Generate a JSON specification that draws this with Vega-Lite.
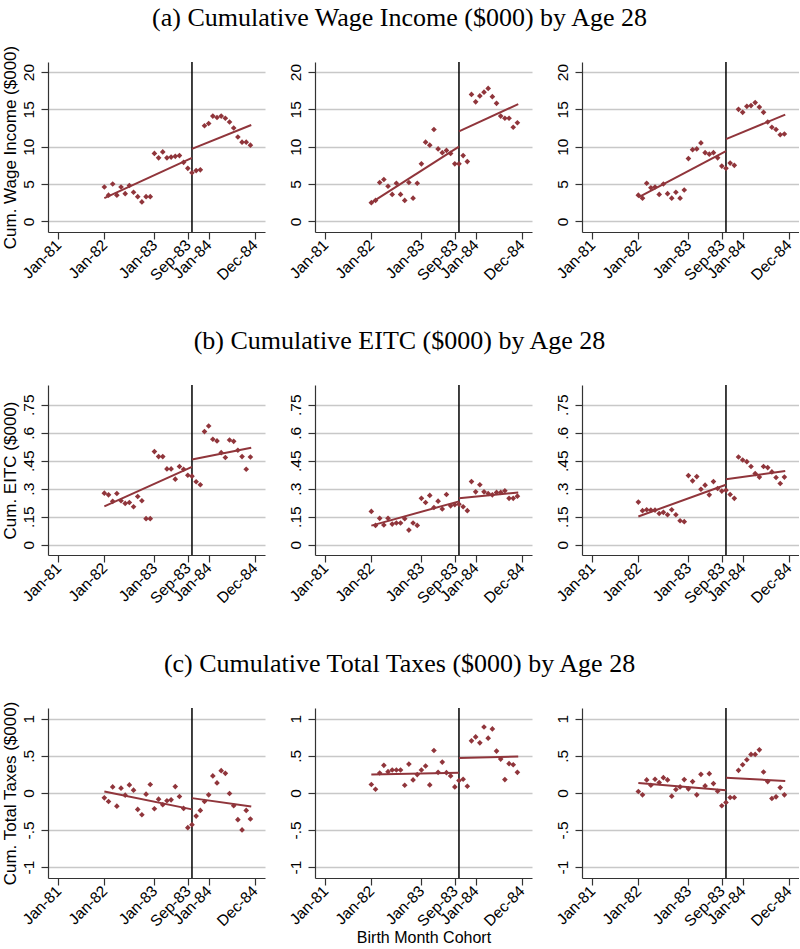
{
"$schema": "https://vega.github.io/schema/vega-lite/v6.json",
"padding": {"left": 0, "top": 5, "right": 0, "bottom": 0},
"columns": 3,
"bounds": "flush",
"spacing": {"row": 153, "column": 50},
"datasets": {
"pts": [
{"p":1,"m":12,"v":4.6},{"p":1,"m":13,"v":3.5},{"p":1,"m":14,"v":5.0},{"p":1,"m":15,"v":3.5},{"p":1,"m":16,"v":4.6},{"p":1,"m":17,"v":3.7},{"p":1,"m":18,"v":4.8},{"p":1,"m":19,"v":3.9},{"p":1,"m":20,"v":3.3},{"p":1,"m":21,"v":2.6},{"p":1,"m":22,"v":3.3},{"p":1,"m":23,"v":3.3},{"p":1,"m":24,"v":9.1},{"p":1,"m":25,"v":8.5},{"p":1,"m":26,"v":9.3},{"p":1,"m":27,"v":8.5},{"p":1,"m":28,"v":8.6},{"p":1,"m":29,"v":8.7},{"p":1,"m":30,"v":8.8},{"p":1,"m":31,"v":7.9},{"p":1,"m":32,"v":7.1},{"p":1,"m":33,"v":6.5},{"p":1,"m":34,"v":6.8},{"p":1,"m":35,"v":6.9},{"p":1,"m":36,"v":12.8},{"p":1,"m":37,"v":13.1},{"p":1,"m":38,"v":14.1},{"p":1,"m":39,"v":13.9},{"p":1,"m":40,"v":14.1},{"p":1,"m":41,"v":13.8},{"p":1,"m":42,"v":13.3},{"p":1,"m":43,"v":12.5},{"p":1,"m":44,"v":11.3},{"p":1,"m":45,"v":10.6},{"p":1,"m":46,"v":10.6},{"p":1,"m":47,"v":10.2},
{"p":2,"m":12,"v":2.5},{"p":2,"m":13,"v":2.8},{"p":2,"m":14,"v":5.2},{"p":2,"m":15,"v":5.6},{"p":2,"m":16,"v":4.7},{"p":2,"m":17,"v":3.6},{"p":2,"m":18,"v":5.1},{"p":2,"m":19,"v":3.6},{"p":2,"m":20,"v":2.8},{"p":2,"m":21,"v":5.2},{"p":2,"m":22,"v":3.1},{"p":2,"m":23,"v":5.1},{"p":2,"m":24,"v":7.7},{"p":2,"m":25,"v":10.6},{"p":2,"m":26,"v":10.2},{"p":2,"m":27,"v":12.3},{"p":2,"m":28,"v":9.7},{"p":2,"m":29,"v":9.2},{"p":2,"m":30,"v":9.5},{"p":2,"m":31,"v":9.1},{"p":2,"m":32,"v":7.7},{"p":2,"m":33,"v":7.7},{"p":2,"m":34,"v":8.8},{"p":2,"m":35,"v":8.0},{"p":2,"m":36,"v":17.0},{"p":2,"m":37,"v":16.0},{"p":2,"m":38,"v":16.8},{"p":2,"m":39,"v":17.3},{"p":2,"m":40,"v":17.8},{"p":2,"m":41,"v":16.7},{"p":2,"m":42,"v":15.8},{"p":2,"m":43,"v":14.1},{"p":2,"m":44,"v":13.8},{"p":2,"m":45,"v":13.8},{"p":2,"m":46,"v":12.6},{"p":2,"m":47,"v":13.2},
{"p":3,"m":12,"v":3.5},{"p":3,"m":13,"v":3.1},{"p":3,"m":14,"v":5.1},{"p":3,"m":15,"v":4.5},{"p":3,"m":16,"v":4.6},{"p":3,"m":17,"v":3.6},{"p":3,"m":18,"v":5.0},{"p":3,"m":19,"v":3.7},{"p":3,"m":20,"v":3.1},{"p":3,"m":21,"v":3.9},{"p":3,"m":22,"v":3.1},{"p":3,"m":23,"v":4.2},{"p":3,"m":24,"v":8.4},{"p":3,"m":25,"v":9.6},{"p":3,"m":26,"v":9.7},{"p":3,"m":27,"v":10.5},{"p":3,"m":28,"v":9.2},{"p":3,"m":29,"v":9.0},{"p":3,"m":30,"v":9.2},{"p":3,"m":31,"v":8.5},{"p":3,"m":32,"v":7.4},{"p":3,"m":33,"v":7.1},{"p":3,"m":34,"v":7.8},{"p":3,"m":35,"v":7.5},{"p":3,"m":36,"v":15.0},{"p":3,"m":37,"v":14.6},{"p":3,"m":38,"v":15.4},{"p":3,"m":39,"v":15.5},{"p":3,"m":40,"v":15.9},{"p":3,"m":41,"v":15.3},{"p":3,"m":42,"v":14.6},{"p":3,"m":43,"v":13.3},{"p":3,"m":44,"v":12.6},{"p":3,"m":45,"v":12.3},{"p":3,"m":46,"v":11.6},{"p":3,"m":47,"v":11.7},
{"p":4,"m":12,"v":0.276},{"p":4,"m":13,"v":0.267},{"p":4,"m":14,"v":0.232},{"p":4,"m":15,"v":0.274},{"p":4,"m":16,"v":0.235},{"p":4,"m":17,"v":0.221},{"p":4,"m":18,"v":0.226},{"p":4,"m":19,"v":0.203},{"p":4,"m":20,"v":0.258},{"p":4,"m":21,"v":0.235},{"p":4,"m":22,"v":0.139},{"p":4,"m":23,"v":0.139},{"p":4,"m":24,"v":0.499},{"p":4,"m":25,"v":0.472},{"p":4,"m":26,"v":0.472},{"p":4,"m":27,"v":0.406},{"p":4,"m":28,"v":0.406},{"p":4,"m":29,"v":0.351},{"p":4,"m":30,"v":0.419},{"p":4,"m":31,"v":0.404},{"p":4,"m":32,"v":0.372},{"p":4,"m":33,"v":0.367},{"p":4,"m":34,"v":0.337},{"p":4,"m":35,"v":0.321},{"p":4,"m":36,"v":0.606},{"p":4,"m":37,"v":0.636},{"p":4,"m":38,"v":0.565},{"p":4,"m":39,"v":0.556},{"p":4,"m":40,"v":0.493},{"p":4,"m":41,"v":0.467},{"p":4,"m":42,"v":0.561},{"p":4,"m":43,"v":0.554},{"p":4,"m":44,"v":0.506},{"p":4,"m":45,"v":0.472},{"p":4,"m":46,"v":0.404},{"p":4,"m":47,"v":0.470},
{"p":5,"m":12,"v":0.178},{"p":5,"m":13,"v":0.103},{"p":5,"m":14,"v":0.141},{"p":5,"m":15,"v":0.105},{"p":5,"m":16,"v":0.141},{"p":5,"m":17,"v":0.110},{"p":5,"m":18,"v":0.116},{"p":5,"m":19,"v":0.116},{"p":5,"m":20,"v":0.139},{"p":5,"m":21,"v":0.078},{"p":5,"m":22,"v":0.116},{"p":5,"m":23,"v":0.103},{"p":5,"m":24,"v":0.248},{"p":5,"m":25,"v":0.226},{"p":5,"m":26,"v":0.264},{"p":5,"m":27,"v":0.199},{"p":5,"m":28,"v":0.233},{"p":5,"m":29,"v":0.191},{"p":5,"m":30,"v":0.269},{"p":5,"m":31,"v":0.208},{"p":5,"m":32,"v":0.214},{"p":5,"m":33,"v":0.217},{"p":5,"m":34,"v":0.203},{"p":5,"m":35,"v":0.182},{"p":5,"m":36,"v":0.338},{"p":5,"m":37,"v":0.283},{"p":5,"m":38,"v":0.321},{"p":5,"m":39,"v":0.283},{"p":5,"m":40,"v":0.274},{"p":5,"m":41,"v":0.267},{"p":5,"m":42,"v":0.280},{"p":5,"m":43,"v":0.280},{"p":5,"m":44,"v":0.289},{"p":5,"m":45,"v":0.248},{"p":5,"m":46,"v":0.248},{"p":5,"m":47,"v":0.260},
{"p":6,"m":12,"v":0.228},{"p":6,"m":13,"v":0.182},{"p":6,"m":14,"v":0.187},{"p":6,"m":15,"v":0.185},{"p":6,"m":16,"v":0.185},{"p":6,"m":17,"v":0.167},{"p":6,"m":18,"v":0.173},{"p":6,"m":19,"v":0.160},{"p":6,"m":20,"v":0.187},{"p":6,"m":21,"v":0.160},{"p":6,"m":22,"v":0.128},{"p":6,"m":23,"v":0.123},{"p":6,"m":24,"v":0.370},{"p":6,"m":25,"v":0.342},{"p":6,"m":26,"v":0.365},{"p":6,"m":27,"v":0.297},{"p":6,"m":28,"v":0.319},{"p":6,"m":29,"v":0.267},{"p":6,"m":30,"v":0.338},{"p":6,"m":31,"v":0.301},{"p":6,"m":32,"v":0.287},{"p":6,"m":33,"v":0.292},{"p":6,"m":34,"v":0.269},{"p":6,"m":35,"v":0.248},{"p":6,"m":36,"v":0.470},{"p":6,"m":37,"v":0.454},{"p":6,"m":38,"v":0.445},{"p":6,"m":39,"v":0.419},{"p":6,"m":40,"v":0.381},{"p":6,"m":41,"v":0.362},{"p":6,"m":42,"v":0.419},{"p":6,"m":43,"v":0.413},{"p":6,"m":44,"v":0.390},{"p":6,"m":45,"v":0.360},{"p":6,"m":46,"v":0.328},{"p":6,"m":47,"v":0.362},
{"p":7,"m":12,"v":-0.067},{"p":7,"m":13,"v":-0.116},{"p":7,"m":14,"v":0.080},{"p":7,"m":15,"v":-0.179},{"p":7,"m":16,"v":0.063},{"p":7,"m":17,"v":-0.031},{"p":7,"m":18,"v":0.107},{"p":7,"m":19,"v":0.036},{"p":7,"m":20,"v":-0.223},{"p":7,"m":21,"v":-0.295},{"p":7,"m":22,"v":-0.018},{"p":7,"m":23,"v":0.112},{"p":7,"m":24,"v":-0.214},{"p":7,"m":25,"v":-0.085},{"p":7,"m":26,"v":-0.161},{"p":7,"m":27,"v":-0.107},{"p":7,"m":28,"v":-0.094},{"p":7,"m":29,"v":0.085},{"p":7,"m":30,"v":-0.049},{"p":7,"m":31,"v":-0.210},{"p":7,"m":32,"v":-0.469},{"p":7,"m":33,"v":-0.429},{"p":7,"m":34,"v":-0.313},{"p":7,"m":35,"v":-0.237},{"p":7,"m":36,"v":-0.116},{"p":7,"m":37,"v":-0.027},{"p":7,"m":38,"v":0.228},{"p":7,"m":39,"v":0.134},{"p":7,"m":40,"v":0.299},{"p":7,"m":41,"v":0.263},{"p":7,"m":42,"v":-0.009},{"p":7,"m":43,"v":-0.174},{"p":7,"m":44,"v":-0.362},{"p":7,"m":45,"v":-0.500},{"p":7,"m":46,"v":-0.237},{"p":7,"m":47,"v":-0.353},
{"p":8,"m":12,"v":0.112},{"p":8,"m":13,"v":0.049},{"p":8,"m":14,"v":0.268},{"p":8,"m":15,"v":0.371},{"p":8,"m":16,"v":0.286},{"p":8,"m":17,"v":0.308},{"p":8,"m":18,"v":0.308},{"p":8,"m":19,"v":0.308},{"p":8,"m":20,"v":0.103},{"p":8,"m":21,"v":0.388},{"p":8,"m":22,"v":0.174},{"p":8,"m":23,"v":0.246},{"p":8,"m":24,"v":0.308},{"p":8,"m":25,"v":0.362},{"p":8,"m":26,"v":0.107},{"p":8,"m":27,"v":0.571},{"p":8,"m":28,"v":0.277},{"p":8,"m":29,"v":0.415},{"p":8,"m":30,"v":0.272},{"p":8,"m":31,"v":0.228},{"p":8,"m":32,"v":0.080},{"p":8,"m":33,"v":0.165},{"p":8,"m":34,"v":0.183},{"p":8,"m":35,"v":0.089},{"p":8,"m":36,"v":0.701},{"p":8,"m":37,"v":0.754},{"p":8,"m":38,"v":0.674},{"p":8,"m":39,"v":0.888},{"p":8,"m":40,"v":0.737},{"p":8,"m":41,"v":0.862},{"p":8,"m":42,"v":0.563},{"p":8,"m":43,"v":0.455},{"p":8,"m":44,"v":0.179},{"p":8,"m":45,"v":0.393},{"p":8,"m":46,"v":0.379},{"p":8,"m":47,"v":0.277},
{"p":9,"m":12,"v":0.018},{"p":9,"m":13,"v":-0.027},{"p":9,"m":14,"v":0.174},{"p":9,"m":15,"v":0.103},{"p":9,"m":16,"v":0.183},{"p":9,"m":17,"v":0.138},{"p":9,"m":18,"v":0.205},{"p":9,"m":19,"v":0.174},{"p":9,"m":20,"v":-0.045},{"p":9,"m":21,"v":0.045},{"p":9,"m":22,"v":0.080},{"p":9,"m":23,"v":0.179},{"p":9,"m":24,"v":0.054},{"p":9,"m":25,"v":0.152},{"p":9,"m":26,"v":-0.027},{"p":9,"m":27,"v":0.250},{"p":9,"m":28,"v":0.094},{"p":9,"m":29,"v":0.259},{"p":9,"m":30,"v":0.125},{"p":9,"m":31,"v":0.022},{"p":9,"m":32,"v":-0.174},{"p":9,"m":33,"v":-0.129},{"p":9,"m":34,"v":-0.063},{"p":9,"m":35,"v":-0.063},{"p":9,"m":36,"v":0.304},{"p":9,"m":37,"v":0.379},{"p":9,"m":38,"v":0.446},{"p":9,"m":39,"v":0.518},{"p":9,"m":40,"v":0.518},{"p":9,"m":41,"v":0.580},{"p":9,"m":42,"v":0.281},{"p":9,"m":43,"v":0.152},{"p":9,"m":44,"v":-0.076},{"p":9,"m":45,"v":-0.054},{"p":9,"m":46,"v":0.071},{"p":9,"m":47,"v":-0.027}
],
"fit": [
{"p":1,"seg":"pre","m":12,"v":3.1},{"p":1,"seg":"pre","m":33,"v":8.5},{"p":1,"seg":"post","m":33,"v":9.7},{"p":1,"seg":"post","m":47.2,"v":12.9},
{"p":2,"seg":"pre","m":12,"v":2.5},{"p":2,"seg":"pre","m":33,"v":10.0},{"p":2,"seg":"post","m":33,"v":12.05},{"p":2,"seg":"post","m":47.2,"v":15.7},
{"p":3,"seg":"pre","m":12,"v":3.2},{"p":3,"seg":"pre","m":33,"v":9.4},{"p":3,"seg":"post","m":33,"v":11.0},{"p":3,"seg":"post","m":47.2,"v":14.3},
{"p":4,"seg":"pre","m":12,"v":0.205},{"p":4,"seg":"pre","m":33,"v":0.417},{"p":4,"seg":"post","m":33,"v":0.456},{"p":4,"seg":"post","m":47.2,"v":0.520},
{"p":5,"seg":"pre","m":12,"v":0.102},{"p":5,"seg":"pre","m":33,"v":0.232},{"p":5,"seg":"post","m":33,"v":0.249},{"p":5,"seg":"post","m":47.2,"v":0.280},
{"p":6,"seg":"pre","m":12,"v":0.151},{"p":6,"seg":"pre","m":33,"v":0.321},{"p":6,"seg":"post","m":33,"v":0.351},{"p":6,"seg":"post","m":47.2,"v":0.395},
{"p":7,"seg":"pre","m":12,"v":0.018},{"p":7,"seg":"pre","m":33,"v":-0.223},{"p":7,"seg":"post","m":33,"v":-0.071},{"p":7,"seg":"post","m":47.2,"v":-0.183},
{"p":8,"seg":"pre","m":12,"v":0.246},{"p":8,"seg":"pre","m":33,"v":0.272},{"p":8,"seg":"post","m":33,"v":0.469},{"p":8,"seg":"post","m":47.2,"v":0.491},
{"p":9,"seg":"pre","m":12,"v":0.134},{"p":9,"seg":"pre","m":33,"v":0.036},{"p":9,"seg":"post","m":33,"v":0.205},{"p":9,"seg":"post","m":47.2,"v":0.161}
]
},
"concat": [
{"width": 217, "height": 170,
 "encoding": {"x": {"field": "m", "type": "quantitative", "scale": {"domain": [-1.5, 50.5], "nice": false, "zero": false}, "axis": {"values": [1,12,24,32,37,48], "title": null, "labelExpr": "datum.value == 1 ? 'Jan-81' : datum.value == 12 ? 'Jan-82' : datum.value == 24 ? 'Jan-83' : datum.value == 32 ? 'Sep-83' : datum.value == 37 ? 'Jan-84' : 'Dec-84'"}}},
 "layer": [
  {"data": {"values": [{"m": 33}]}, "mark": {"type": "rule", "color": "#000000", "strokeWidth": 1.5}, "encoding": {}},
  {"data": {"name": "pts"}, "transform": [{"filter": "datum.p == 1"}], "mark": {"type": "point", "shape": "diamond", "filled": true, "size": 32, "color": "#90353b", "opacity": 1}, "encoding": {"y": {"field": "v", "type": "quantitative", "scale": {"domain": [-1.43, 21.34], "nice": false, "zero": false}, "axis": {"values": [0,5,10,15,20], "tickCount": 10, "title": "Cum. Wage Income ($000)", "labelExpr": "replace(toString(datum.value), '0.', '.')"}}}},
  {"data": {"name": "fit"}, "transform": [{"filter": "datum.p == 1"}], "mark": {"type": "line", "color": "#90353b", "strokeWidth": 2}, "encoding": {"y": {"field": "v", "type": "quantitative"}, "detail": {"field": "seg"}}}
 ]},
{"width": 217, "height": 170,
 "title": {"text": "(a) Cumulative Wage Income ($000) by Age 28", "dx": -24},
 "encoding": {"x": {"field": "m", "type": "quantitative", "scale": {"domain": [-1.5, 50.5], "nice": false, "zero": false}, "axis": {"values": [1,12,24,32,37,48], "title": null, "labelExpr": "datum.value == 1 ? 'Jan-81' : datum.value == 12 ? 'Jan-82' : datum.value == 24 ? 'Jan-83' : datum.value == 32 ? 'Sep-83' : datum.value == 37 ? 'Jan-84' : 'Dec-84'"}}},
 "layer": [
  {"data": {"values": [{"m": 33}]}, "mark": {"type": "rule", "color": "#000000", "strokeWidth": 1.5}, "encoding": {}},
  {"data": {"name": "pts"}, "transform": [{"filter": "datum.p == 2"}], "mark": {"type": "point", "shape": "diamond", "filled": true, "size": 32, "color": "#90353b", "opacity": 1}, "encoding": {"y": {"field": "v", "type": "quantitative", "scale": {"domain": [-1.43, 21.34], "nice": false, "zero": false}, "axis": {"values": [0,5,10,15,20], "tickCount": 10, "title": null, "labelExpr": "replace(toString(datum.value), '0.', '.')"}}}},
  {"data": {"name": "fit"}, "transform": [{"filter": "datum.p == 2"}], "mark": {"type": "line", "color": "#90353b", "strokeWidth": 2}, "encoding": {"y": {"field": "v", "type": "quantitative"}, "detail": {"field": "seg"}}}
 ]},
{"width": 217, "height": 170,
 "encoding": {"x": {"field": "m", "type": "quantitative", "scale": {"domain": [-1.5, 50.5], "nice": false, "zero": false}, "axis": {"values": [1,12,24,32,37,48], "title": null, "labelExpr": "datum.value == 1 ? 'Jan-81' : datum.value == 12 ? 'Jan-82' : datum.value == 24 ? 'Jan-83' : datum.value == 32 ? 'Sep-83' : datum.value == 37 ? 'Jan-84' : 'Dec-84'"}}},
 "layer": [
  {"data": {"values": [{"m": 33}]}, "mark": {"type": "rule", "color": "#000000", "strokeWidth": 1.5}, "encoding": {}},
  {"data": {"name": "pts"}, "transform": [{"filter": "datum.p == 3"}], "mark": {"type": "point", "shape": "diamond", "filled": true, "size": 32, "color": "#90353b", "opacity": 1}, "encoding": {"y": {"field": "v", "type": "quantitative", "scale": {"domain": [-1.43, 21.34], "nice": false, "zero": false}, "axis": {"values": [0,5,10,15,20], "tickCount": 10, "title": null, "labelExpr": "replace(toString(datum.value), '0.', '.')"}}}},
  {"data": {"name": "fit"}, "transform": [{"filter": "datum.p == 3"}], "mark": {"type": "line", "color": "#90353b", "strokeWidth": 2}, "encoding": {"y": {"field": "v", "type": "quantitative"}, "detail": {"field": "seg"}}}
 ]},
{"width": 217, "height": 170,
 "encoding": {"x": {"field": "m", "type": "quantitative", "scale": {"domain": [-1.5, 50.5], "nice": false, "zero": false}, "axis": {"values": [1,12,24,32,37,48], "title": null, "labelExpr": "datum.value == 1 ? 'Jan-81' : datum.value == 12 ? 'Jan-82' : datum.value == 24 ? 'Jan-83' : datum.value == 32 ? 'Sep-83' : datum.value == 37 ? 'Jan-84' : 'Dec-84'"}}},
 "layer": [
  {"data": {"values": [{"m": 33}]}, "mark": {"type": "rule", "color": "#000000", "strokeWidth": 1.5}, "encoding": {}},
  {"data": {"name": "pts"}, "transform": [{"filter": "datum.p == 4"}], "mark": {"type": "point", "shape": "diamond", "filled": true, "size": 32, "color": "#90353b", "opacity": 1}, "encoding": {"y": {"field": "v", "type": "quantitative", "scale": {"domain": [-0.0557, 0.856], "nice": false, "zero": false}, "axis": {"values": [0,0.15,0.3,0.45,0.6,0.75], "tickCount": 10, "title": "Cum. EITC ($000)", "labelExpr": "replace(toString(datum.value), '0.', '.')"}}}},
  {"data": {"name": "fit"}, "transform": [{"filter": "datum.p == 4"}], "mark": {"type": "line", "color": "#90353b", "strokeWidth": 2}, "encoding": {"y": {"field": "v", "type": "quantitative"}, "detail": {"field": "seg"}}}
 ]},
{"width": 217, "height": 170,
 "title": {"text": "(b) Cumulative EITC ($000) by Age 28", "dx": -24},
 "encoding": {"x": {"field": "m", "type": "quantitative", "scale": {"domain": [-1.5, 50.5], "nice": false, "zero": false}, "axis": {"values": [1,12,24,32,37,48], "title": null, "labelExpr": "datum.value == 1 ? 'Jan-81' : datum.value == 12 ? 'Jan-82' : datum.value == 24 ? 'Jan-83' : datum.value == 32 ? 'Sep-83' : datum.value == 37 ? 'Jan-84' : 'Dec-84'"}}},
 "layer": [
  {"data": {"values": [{"m": 33}]}, "mark": {"type": "rule", "color": "#000000", "strokeWidth": 1.5}, "encoding": {}},
  {"data": {"name": "pts"}, "transform": [{"filter": "datum.p == 5"}], "mark": {"type": "point", "shape": "diamond", "filled": true, "size": 32, "color": "#90353b", "opacity": 1}, "encoding": {"y": {"field": "v", "type": "quantitative", "scale": {"domain": [-0.0557, 0.856], "nice": false, "zero": false}, "axis": {"values": [0,0.15,0.3,0.45,0.6,0.75], "tickCount": 10, "title": null, "labelExpr": "replace(toString(datum.value), '0.', '.')"}}}},
  {"data": {"name": "fit"}, "transform": [{"filter": "datum.p == 5"}], "mark": {"type": "line", "color": "#90353b", "strokeWidth": 2}, "encoding": {"y": {"field": "v", "type": "quantitative"}, "detail": {"field": "seg"}}}
 ]},
{"width": 217, "height": 170,
 "encoding": {"x": {"field": "m", "type": "quantitative", "scale": {"domain": [-1.5, 50.5], "nice": false, "zero": false}, "axis": {"values": [1,12,24,32,37,48], "title": null, "labelExpr": "datum.value == 1 ? 'Jan-81' : datum.value == 12 ? 'Jan-82' : datum.value == 24 ? 'Jan-83' : datum.value == 32 ? 'Sep-83' : datum.value == 37 ? 'Jan-84' : 'Dec-84'"}}},
 "layer": [
  {"data": {"values": [{"m": 33}]}, "mark": {"type": "rule", "color": "#000000", "strokeWidth": 1.5}, "encoding": {}},
  {"data": {"name": "pts"}, "transform": [{"filter": "datum.p == 6"}], "mark": {"type": "point", "shape": "diamond", "filled": true, "size": 32, "color": "#90353b", "opacity": 1}, "encoding": {"y": {"field": "v", "type": "quantitative", "scale": {"domain": [-0.0557, 0.856], "nice": false, "zero": false}, "axis": {"values": [0,0.15,0.3,0.45,0.6,0.75], "tickCount": 10, "title": null, "labelExpr": "replace(toString(datum.value), '0.', '.')"}}}},
  {"data": {"name": "fit"}, "transform": [{"filter": "datum.p == 6"}], "mark": {"type": "line", "color": "#90353b", "strokeWidth": 2}, "encoding": {"y": {"field": "v", "type": "quantitative"}, "detail": {"field": "seg"}}}
 ]},
{"width": 217, "height": 170,
 "encoding": {"x": {"field": "m", "type": "quantitative", "scale": {"domain": [-1.5, 50.5], "nice": false, "zero": false}, "axis": {"values": [1,12,24,32,37,48], "title": null, "labelExpr": "datum.value == 1 ? 'Jan-81' : datum.value == 12 ? 'Jan-82' : datum.value == 24 ? 'Jan-83' : datum.value == 32 ? 'Sep-83' : datum.value == 37 ? 'Jan-84' : 'Dec-84'"}}},
 "layer": [
  {"data": {"values": [{"m": 33}]}, "mark": {"type": "rule", "color": "#000000", "strokeWidth": 1.5}, "encoding": {}},
  {"data": {"name": "pts"}, "transform": [{"filter": "datum.p == 7"}], "mark": {"type": "point", "shape": "diamond", "filled": true, "size": 32, "color": "#90353b", "opacity": 1}, "encoding": {"y": {"field": "v", "type": "quantitative", "scale": {"domain": [-1.148, 1.144], "nice": false, "zero": false}, "axis": {"values": [-1,-0.5,0,0.5,1], "tickCount": 10, "title": "Cum. Total Taxes ($000)", "labelExpr": "replace(toString(datum.value), '0.', '.')"}}}},
  {"data": {"name": "fit"}, "transform": [{"filter": "datum.p == 7"}], "mark": {"type": "line", "color": "#90353b", "strokeWidth": 2}, "encoding": {"y": {"field": "v", "type": "quantitative"}, "detail": {"field": "seg"}}}
 ]},
{"width": 217, "height": 170,
 "title": {"text": "(c) Cumulative Total Taxes ($000) by Age 28", "dx": -24},
 "encoding": {"x": {"field": "m", "type": "quantitative", "scale": {"domain": [-1.5, 50.5], "nice": false, "zero": false}, "axis": {"values": [1,12,24,32,37,48], "title": "Birth Month Cohort", "titleFontSize": 16, "titlePadding": 0, "labelExpr": "datum.value == 1 ? 'Jan-81' : datum.value == 12 ? 'Jan-82' : datum.value == 24 ? 'Jan-83' : datum.value == 32 ? 'Sep-83' : datum.value == 37 ? 'Jan-84' : 'Dec-84'"}}},
 "layer": [
  {"data": {"values": [{"m": 33}]}, "mark": {"type": "rule", "color": "#000000", "strokeWidth": 1.5}, "encoding": {}},
  {"data": {"name": "pts"}, "transform": [{"filter": "datum.p == 8"}], "mark": {"type": "point", "shape": "diamond", "filled": true, "size": 32, "color": "#90353b", "opacity": 1}, "encoding": {"y": {"field": "v", "type": "quantitative", "scale": {"domain": [-1.148, 1.144], "nice": false, "zero": false}, "axis": {"values": [-1,-0.5,0,0.5,1], "tickCount": 10, "title": null, "labelExpr": "replace(toString(datum.value), '0.', '.')"}}}},
  {"data": {"name": "fit"}, "transform": [{"filter": "datum.p == 8"}], "mark": {"type": "line", "color": "#90353b", "strokeWidth": 2}, "encoding": {"y": {"field": "v", "type": "quantitative"}, "detail": {"field": "seg"}}}
 ]},
{"width": 217, "height": 170,
 "encoding": {"x": {"field": "m", "type": "quantitative", "scale": {"domain": [-1.5, 50.5], "nice": false, "zero": false}, "axis": {"values": [1,12,24,32,37,48], "title": null, "labelExpr": "datum.value == 1 ? 'Jan-81' : datum.value == 12 ? 'Jan-82' : datum.value == 24 ? 'Jan-83' : datum.value == 32 ? 'Sep-83' : datum.value == 37 ? 'Jan-84' : 'Dec-84'"}}},
 "layer": [
  {"data": {"values": [{"m": 33}]}, "mark": {"type": "rule", "color": "#000000", "strokeWidth": 1.5}, "encoding": {}},
  {"data": {"name": "pts"}, "transform": [{"filter": "datum.p == 9"}], "mark": {"type": "point", "shape": "diamond", "filled": true, "size": 32, "color": "#90353b", "opacity": 1}, "encoding": {"y": {"field": "v", "type": "quantitative", "scale": {"domain": [-1.148, 1.144], "nice": false, "zero": false}, "axis": {"values": [-1,-0.5,0,0.5,1], "tickCount": 10, "title": null, "labelExpr": "replace(toString(datum.value), '0.', '.')"}}}},
  {"data": {"name": "fit"}, "transform": [{"filter": "datum.p == 9"}], "mark": {"type": "line", "color": "#90353b", "strokeWidth": 2}, "encoding": {"y": {"field": "v", "type": "quantitative"}, "detail": {"field": "seg"}}}
 ]}
],
"config": {
 "view": {"stroke": null},
 "background": "#ffffff",
 "axis": {"labelFont": "Liberation Sans", "labelFontSize": 15.5, "labelColor": "#000000", "titleFont": "Liberation Sans", "titleFontSize": 17, "titleFontWeight": "normal", "titleColor": "#000000", "domainColor": "#333333", "domainWidth": 1.2, "tickColor": "#333333", "tickWidth": 1.2, "tickSize": 7, "gridColor": "#c8c8c8", "gridWidth": 1.5, "labelFlush": false, "labelOverlap": false},
 "axisX": {"grid": false, "labelAngle": -45, "labelAlign": "right", "labelBaseline": "middle", "labelPadding": 3, "titlePadding": 5},
 "axisY": {"grid": true, "labelAngle": -90, "labelAlign": "center", "labelBaseline": "bottom", "labelPadding": 5, "titlePadding": 2},
 "title": {"font": "Liberation Serif", "fontSize": 26, "fontWeight": "normal", "color": "#000000", "offset": 30, "anchor": "middle"}
}
}
